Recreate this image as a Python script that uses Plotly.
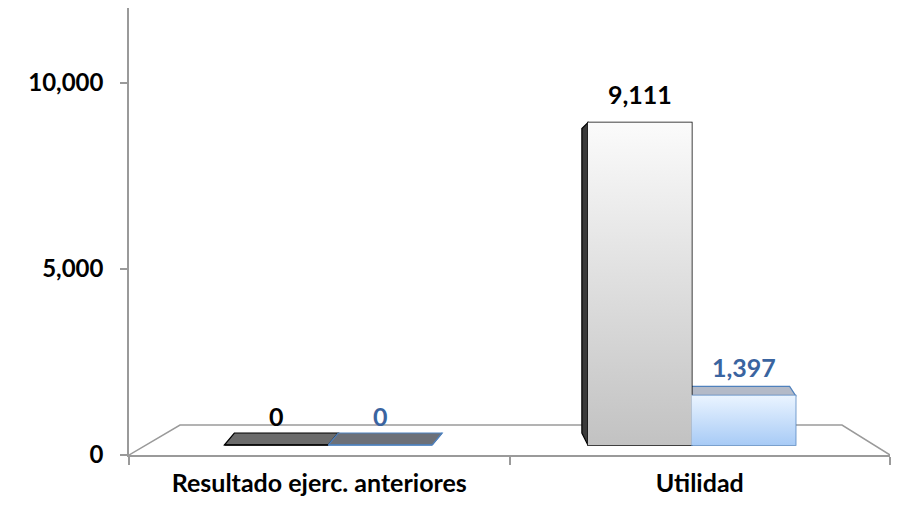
import plotly.graph_objects as go

# ---------------- data ----------------
categories = ["Resultado ejerc. anteriores", "Utilidad"]
series_a = [0, 9111]      # gray series
series_b = [0, 1397]      # blue series
ytick_vals = [0, 5000, 10000]
ytick_text = ["0", "5,000", "10,000"]

# ---------------- layout / style constants ----------------
W, H = 896, 500
ML, MR, MT, MB = 121, 14, 0, 53
PW, PH = W - ML - MR, H - MT - MB
Y_MAX = 12000
FONT = "Lato"
FS = 25
FS_TICK = 24

# pseudo-3D projection
FLOOR_PX = 10          # bars' front face sits this many px above the axis baseline
BAR_SCALE = 0.95       # front face vertical scale relative to the axis
BAR_W = 0.273          # bar width in category units
PERSP_PX = [9, -8]     # horizontal perspective shift of each group (px)
DEPTH_DX_PX = [10, -6] # depth vector x per category (px)
DEPTH_UP_PX = 12       # depth vector y at value 0 (px, upward)
EYE_VALUE = 6090       # value at eye level (top faces invisible above it)
FLOOR_DEPTH_PX = 30
FLOOR_LEFT_PX = 51
FLOOR_RIGHT_PX = 48
LABEL_SHIFT = 29

GRAY_GRAD = [[0, "#c2c2c2"], [1, "#fbfbfb"]]
GRAY_EDGE = "#000000"
GRAY_TOP = ["#6b6b6b", "#6b6b6b"]
GRAY_SIDE = "#3a3a3a"
BLUE_GRAD = [[0, "#a8cbf6"], [1, "#eaf4ff"]]
BLUE_EDGE = "#4f81bd"
BLUE_TOP = ["#6c7078", "#b3bac8"]
BLUE_SIDE = "#8aa9d0"
BLUE_TEXT = "#3a64a0"
AXIS_COLOR = "#9a9a9a"

px_x = PW / 2.0                       # px per category unit
px_y = PH / Y_MAX                     # px per value unit on main axis
px_y2 = px_y * BAR_SCALE              # px per value unit on bar axis
y2_range = [-FLOOR_PX / px_y2, (PH - FLOOR_PX) / px_y2]

shift = [p / px_x for p in PERSP_PX]
off_a = [-BAR_W + s for s in shift]
off_b = [s for s in shift]

series = [
    dict(vals=series_a, offs=off_a, edge=GRAY_EDGE, grad=GRAY_GRAD, tops=GRAY_TOP,
         side=GRAY_SIDE, tcol="#000000", name="A"),
    dict(vals=series_b, offs=off_b, edge=BLUE_EDGE, grad=BLUE_GRAD, tops=BLUE_TOP,
         side=BLUE_SIDE, tcol=BLUE_TEXT, name="B"),
]

fig = go.Figure()

# gradient fill of the front faces (computed from the data values)
for s in series:
    for i, v in enumerate(s["vals"]):
        if v <= 0:
            continue
        x0 = i + s["offs"][i]
        x1 = x0 + BAR_W
        fig.add_trace(go.Scatter(
            x=[x0, x1, x1, x0, x0], y=[0, 0, v, v, 0], yaxis="y2", xaxis="x3",
            mode="lines", line=dict(width=0), fill="toself",
            fillgradient=dict(type="vertical", colorscale=s["grad"]),
            showlegend=False, hoverinfo="skip"))

# bars (outline) on top
for s in series:
    fig.add_trace(go.Bar(
        x=categories, y=s["vals"], yaxis="y2", width=BAR_W, offset=s["offs"],
        marker=dict(color="rgba(0,0,0,0)", line=dict(color=s["edge"], width=1.5)),
        name=s["name"], showlegend=False, hoverinfo="skip"))

shapes = []
# floor
fx0 = -0.5 + FLOOR_LEFT_PX / px_x
fx1 = 1.5 - FLOOR_RIGHT_PX / px_x
fy = FLOOR_DEPTH_PX / px_y
shapes.append(dict(type="path", xref="x", yref="y", layer="below",
                   path=f"M -0.5,0 L {fx0},{fy} L {fx1},{fy} L 1.5,0",
                   line=dict(color=AXIS_COLOR, width=1.5)))

annotations = []
for i, cat in enumerate(categories):
    ddx = DEPTH_DX_PX[i] / px_x
    for j, s in enumerate(series):
        v = s["vals"][i]
        x0 = i + s["offs"][i]
        x1 = x0 + BAR_W
        up = DEPTH_UP_PX * (1 - v / EYE_VALUE)
        ddy = up / px_y2
        ddy0 = DEPTH_UP_PX / px_y2
        if (ddx < 0 and j == 0) or (ddx > 0 and j == 1):
            xe = x0 if ddx < 0 else x1
            shapes.append(dict(type="path", xref="x", yref="y2", layer="below",
                               path=f"M {xe},0 L {xe},{v} L {xe+ddx},{v+ddy} L {xe+ddx},{ddy0} Z",
                               fillcolor=s["side"], line=dict(color=s["edge"], width=1.2)))
        if up > 0:
            shapes.append(dict(type="path", xref="x", yref="y2", layer="below",
                               path=f"M {x0},{v} L {x1},{v} L {x1+ddx},{v+ddy} L {x0+ddx},{v+ddy} Z",
                               fillcolor=s["tops"][i], line=dict(color=s["edge"], width=1.2)))
        annotations.append(dict(x=(x0 + x1) / 2, y=v, xref="x", yref="y2",
                                text=f"{v:,}", showarrow=False, yshift=LABEL_SHIFT,
                                yanchor="middle",
                                font=dict(family=FONT, size=FS, color=s["tcol"], weight="bold")))

fig.update_layout(
    width=W, height=H,
    margin=dict(l=ML, r=MR, t=MT, b=MB),
    paper_bgcolor="white", plot_bgcolor="white",
    barmode="overlay",
    shapes=shapes, annotations=annotations,
    font=dict(family=FONT, size=FS, color="#000000", weight="bold"),
    xaxis=dict(range=[-0.5, 1.5], showgrid=False, showline=True, linecolor=AXIS_COLOR,
               linewidth=1.5, ticks="outside", tickson="boundaries", ticklen=8,
               tickcolor=AXIS_COLOR, tickwidth=1.5, ticklabelstandoff=5,
               tickfont=dict(family=FONT, size=FS, color="#000000", weight="bold")),
    xaxis3=dict(range=[-0.5, 1.5], overlaying="x", visible=False, matches=None),
    yaxis=dict(range=[0, Y_MAX], showgrid=False, zeroline=False, showline=True,
               linecolor=AXIS_COLOR, linewidth=1.5, ticks="outside", ticklen=7,
               tickcolor=AXIS_COLOR, tickwidth=1.5, tickvals=ytick_vals,
               ticktext=ytick_text, ticklabelstandoff=12,
               tickfont=dict(family=FONT, size=FS_TICK, color="#000000", weight="bold")),
    yaxis2=dict(range=y2_range, overlaying="y", visible=False, showgrid=False,
                zeroline=False),
)

fig.write_html("out.html")
